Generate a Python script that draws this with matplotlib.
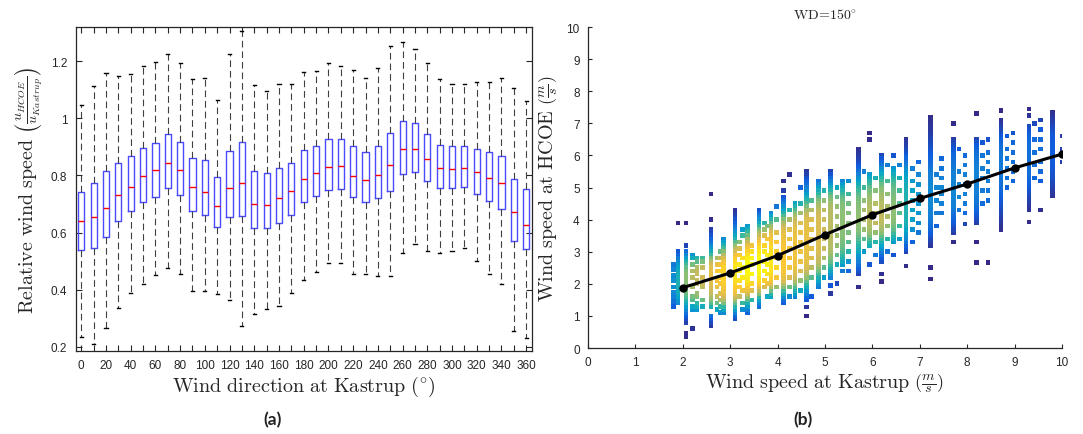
import numpy as np
import matplotlib
matplotlib.use('Agg')
import matplotlib.pyplot as plt
from matplotlib.colors import LinearSegmentedColormap

plt.rcParams['mathtext.fontset'] = 'cm'
plt.rcParams['font.family'] = ['Liberation Sans', 'DejaVu Sans']

# ---- (a) relative wind speed per wind direction (box statistics) ----
directions = [0, 10, 20, 30, 40, 50, 60, 70, 80, 90, 100, 110, 120, 130, 140, 150, 160, 170, 180,
              190, 200, 210, 220, 230, 240, 250, 260, 270, 280, 290, 300, 310, 320, 330, 340, 350, 360]
whisk_hi = [1.047, 1.112, 1.158, 1.147, 1.154, 1.182, 1.196, 1.225, 1.192, 1.137, 1.140, 1.063, 1.225,
            1.305, 1.116, 1.095, 1.119, 1.119, 1.161, 1.165, 1.193, 1.182, 1.168, 1.140, 1.175, 1.253,
            1.267, 1.243, 1.193, 1.137, 1.119, 1.119, 1.126, 1.126, 1.140, 1.105, 1.060]
q3 = [0.741, 0.772, 0.815, 0.843, 0.867, 0.896, 0.915, 0.944, 0.918, 0.860, 0.853, 0.795, 0.886,
      0.916, 0.815, 0.808, 0.827, 0.845, 0.888, 0.902, 0.927, 0.927, 0.902, 0.881, 0.902, 0.948,
      0.989, 0.984, 0.944, 0.907, 0.902, 0.902, 0.892, 0.881, 0.867, 0.787, 0.754]
med = [0.639, 0.653, 0.685, 0.730, 0.758, 0.797, 0.819, 0.844, 0.819, 0.758, 0.741, 0.692, 0.755,
       0.772, 0.699, 0.695, 0.720, 0.744, 0.787, 0.808, 0.829, 0.832, 0.797, 0.783, 0.800, 0.836,
       0.892, 0.892, 0.857, 0.825, 0.822, 0.825, 0.811, 0.790, 0.772, 0.671, 0.625]
q1 = [0.540, 0.545, 0.586, 0.639, 0.674, 0.706, 0.725, 0.756, 0.732, 0.674, 0.663, 0.618, 0.653,
      0.657, 0.615, 0.615, 0.632, 0.660, 0.706, 0.727, 0.750, 0.751, 0.723, 0.706, 0.720, 0.744,
      0.804, 0.813, 0.779, 0.755, 0.755, 0.758, 0.734, 0.712, 0.681, 0.569, 0.541]
whisk_lo = [0.236, 0.212, 0.268, 0.338, 0.390, 0.422, 0.451, 0.475, 0.455, 0.395, 0.395, 0.384, 0.364,
            0.275, 0.317, 0.334, 0.345, 0.390, 0.436, 0.461, 0.492, 0.492, 0.455, 0.454, 0.447, 0.447,
            0.527, 0.559, 0.534, 0.527, 0.534, 0.545, 0.499, 0.457, 0.420, 0.255, 0.230]
dir_labels = [0, 20, 40, 60, 80, 100, 120, 140, 160, 180, 200, 220, 240, 260, 280, 300, 320, 340, 360]

# ---- (b) WD=150 deg scatter: solid runs of points in the Kastrup speed columns ----
run_x = [1.90, 2.07, 2.07, 2.59, 2.59, 2.86, 3.10, 3.36, 3.61, 3.86, 4.12, 4.37, 4.61, 4.86,
         5.11, 5.37, 5.70, 5.94, 6.19, 6.44, 6.71, 7.22, 7.71, 8.20, 8.71, 9.30, 9.80]
run_lo = [1.4, 0.8, 0.35, 1.3, 0.7, 1.1, 0.9, 1.1, 1.3, 1.6, 1.4, 1.6, 1.5, 1.9,
          2.2, 2.6, 2.3, 3.2, 2.7, 3.3, 3.0, 3.2, 3.6, 3.9, 3.7, 4.3, 4.75]
run_hi = [3.0, 3.0, 0.5, 3.7, 1.0, 3.4, 4.3, 3.8, 4.3, 4.2, 4.7, 4.5, 5.5, 5.2,
          5.5, 5.2, 6.2, 5.4, 6.0, 5.6, 6.5, 7.2, 6.5, 6.5, 7.1, 6.9, 7.35]

# scattered points between the columns and outliers
side_x = [1.80, 1.90, 2.07, 2.20, 2.30, 2.42, 2.59, 2.72, 2.80, 3.20, 3.26, 3.46, 3.72, 3.78,
          3.98, 4.12, 4.25, 4.48, 4.61, 4.72, 4.98, 5.11, 5.25, 5.37, 5.50, 5.70, 5.82, 5.94,
          6.07, 6.19, 6.32, 6.44, 6.57, 6.71, 6.84, 6.97, 7.22, 7.35, 7.46, 7.71, 7.83, 7.95,
          8.20, 8.32, 8.44, 8.71, 8.84, 8.97, 9.30, 9.42, 9.55, 10.0]
side_y = [
    [1.3, 1.45, 1.6, 1.75, 1.9, 2.1, 2.25, 2.45, 2.6],
    [3.9],
    [3.2, 3.9],
    [0.6, 1.2, 1.3, 1.5, 1.6, 1.9, 2.2, 2.4, 2.6, 2.8, 2.9],
    [1.2, 1.3, 1.4, 1.6, 1.7, 2.0, 2.1, 2.3, 2.4, 2.5, 2.7, 2.8],
    [1.3, 1.5, 1.9, 2.0, 2.2, 2.5, 2.7, 2.8],
    [4.0, 4.8],
    [1.2, 1.4, 1.6, 1.9, 2.1, 2.4, 2.6, 2.8],
    [1.1, 1.3, 1.5, 1.7, 2.0, 2.2, 2.4, 2.6, 2.8, 3.0],
    [1.6, 1.9, 2.1, 2.4, 2.6, 2.9, 3.1, 3.3],
    [1.2, 1.4, 1.8, 2.2, 2.5, 2.8, 3.5, 3.7],
    [1.5, 1.8, 2.0, 2.3, 2.6, 2.8, 3.0, 3.2],
    [1.9, 2.1, 2.4, 2.7, 3.0, 3.2, 3.5, 3.7, 3.9],
    [1.6, 2.0, 2.3, 2.6, 2.9, 3.4, 3.8],
    [1.9, 2.2, 2.5, 2.8, 3.0, 3.3, 3.6, 4.0, 4.4],
    [4.9, 5.2],
    [1.6, 1.9, 2.2, 2.5, 2.8, 3.1, 3.4, 3.7, 4.0, 4.3, 5.4],
    [1.8, 2.1, 2.4, 2.7, 3.0, 3.3, 3.6, 3.9, 4.2, 4.5, 5.0],
    [1.0, 1.28],
    [1.6, 2.2, 2.5, 2.8, 3.1, 3.4, 3.7, 4.0, 4.3, 4.6],
    [2.2, 2.5, 2.8, 3.1, 3.4, 3.7, 4.0, 4.3, 4.6, 4.9],
    [1.7, 1.95],
    [2.0, 2.6, 2.9, 3.2, 3.5, 3.8, 4.1, 4.4, 4.7, 5.0],
    [2.4],
    [2.4, 2.7, 3.0, 3.3, 3.6, 3.9, 4.2, 4.5, 4.8, 5.2],
    [1.9],
    [3.0, 3.4, 3.7, 4.0, 4.3, 4.6, 5.0, 5.5],
    [2.6, 6.5, 6.7],
    [2.9, 3.3, 3.6, 3.9, 4.2, 4.5, 4.9, 5.3],
    [2.07, 2.3],
    [3.0, 3.4, 3.8, 4.1, 4.4, 4.8, 5.2, 5.7],
    [2.9, 6.0],
    [3.4, 3.8, 4.2, 4.5, 4.9, 5.3, 5.7],
    [2.56],
    [3.3, 3.7, 4.0, 4.3, 4.6, 4.9, 5.2, 5.6],
    [3.6, 3.9, 4.2, 4.5, 4.8, 5.1, 5.4, 5.8],
    [2.15, 2.5],
    [3.8, 4.2, 4.6, 5.0, 5.4],
    [4.2, 4.5, 4.8, 5.0, 5.3, 5.6, 5.9],
    [3.3, 7.0],
    [4.3, 4.7, 5.1, 5.5, 6.2],
    [3.86, 4.2, 4.5, 4.8, 5.1, 5.4, 5.7, 6.0],
    [2.66, 3.3, 7.3],
    [4.5, 4.9, 5.3, 5.6, 6.0, 6.4],
    [2.67, 4.6, 4.9, 5.2, 5.5, 5.8, 6.1, 6.5],
    [7.4],
    [5.0, 5.3, 5.6, 5.9, 6.2, 6.6],
    [5.2, 5.5, 5.8, 6.1, 6.4, 6.7],
    [3.93, 7.25, 7.45],
    [5.3, 5.7, 6.1, 6.5, 7.0],
    [4.3, 5.2, 5.5, 5.8, 6.2, 6.5, 6.8, 7.1],
    [5.8, 6.2, 6.6],
]

# binned mean line
mean_x = [2, 3, 4, 5, 6, 7, 8, 9, 10]
mean_y = [1.88, 2.34, 2.88, 3.53, 4.15, 4.66, 5.11, 5.61, 6.04]

parula = LinearSegmentedColormap.from_list(
    'parula', ['#352a87', '#0f5cdd', '#1481d6', '#06a4ca', '#2eb7a4',
               '#87bf77', '#d1bb59', '#fec832', '#f9fb0e'])

fig = plt.figure(figsize=(10.83, 4.35), dpi=100)
ink = '#262626'

# ---------------- (a) ----------------
ax1 = fig.add_axes([0.0699, 0.1908, 0.4211, 0.7448])
stats = []
for i in range(len(directions)):
    stats.append(dict(med=med[i], q1=q1[i], q3=q3[i], whislo=whisk_lo[i],
                      whishi=whisk_hi[i], fliers=[]))
ax1.bxp(stats, positions=directions, widths=5, capwidths=2.5, showfliers=False,
        manage_ticks=False,
        boxprops=dict(color='#4a4aff', lw=1.0),
        medianprops=dict(color='#ff0000', lw=1.0),
        whiskerprops=dict(color='#404040', lw=0.8, ls=(0, (6, 3.5))),
        capprops=dict(color='black', lw=1.0))
ax1.set_xlim(-4.5, 364.5)
ax1.set_ylim(0.186, 1.319)
ax1.set_xticks(directions, minor=True)
ax1.set_xticks(dir_labels)
ax1.set_xticklabels([str(d) for d in dir_labels])
ax1.set_yticks([0.2, 0.4, 0.6, 0.8, 1.0, 1.2])
ax1.set_yticklabels(['0.2', '0.4', '0.6', '0.8', '1', '1.2'])
ax1.tick_params(which='both', direction='in', top=True, right=True, length=4, width=0.8,
                labelsize=8.5, colors=ink, pad=6)
for s in ax1.spines.values():
    s.set_color(ink)
    s.set_linewidth(0.9)
ax1.set_xlabel(r'$\mathrm{Wind\ direction\ at\ Kastrup\ }(^{\circ})$', fontsize=14.5,
               color=ink, labelpad=2)
ax1.set_ylabel(r'$\mathrm{Relative\ wind\ speed\ }\left(\frac{u_{HCOE}}{u_{Kastrup}}\right)$',
               fontsize=14.5, color=ink, labelpad=4)

# ---------------- (b) ----------------
ax2 = fig.add_axes([0.543, 0.1977, 0.4376, 0.7379])
px, py = [], []
for x, lo, hi in zip(run_x, run_lo, run_hi):
    ys = np.arange(lo, hi + 1e-6, 0.1)
    px.extend([x] * len(ys))
    py.extend(ys)
for x, ys in zip(side_x, side_y):
    px.extend([x] * len(ys))
    py.extend(ys)
px = np.array(px)
py = np.array(py)
dx = (px[:, None] - px[None, :]) / 0.3
dy = (py[:, None] - py[None, :]) / 0.35
dens = np.exp(-0.5 * (dx ** 2 + dy ** 2)).sum(axis=1)
dens = (dens - dens.min()) / (dens.max() - dens.min())
dens = dens ** 2.1
order = np.argsort(dens)
ax2.scatter(px[order], py[order], c=dens[order], cmap=parula, marker='s', s=11,
            linewidths=0, zorder=2)
ax2.plot(mean_x, mean_y, color='black', lw=2.2, marker='o', ms=5, zorder=3)
ax2.set_xlim(0, 10)
ax2.set_ylim(0, 10)
ax2.set_xticks(range(11))
ax2.set_yticks(range(11))
ax2.spines['top'].set_visible(False)
ax2.spines['right'].set_visible(False)
for s in ['left', 'bottom']:
    ax2.spines[s].set_color(ink)
    ax2.spines[s].set_linewidth(0.9)
ax2.tick_params(direction='in', length=3, width=0.8, labelsize=8.5, colors=ink, pad=6)
ax2.set_title(r'$\mathrm{WD}\!=\!\mathrm{150}^{\circ}$', fontsize=10, color=ink, pad=6)
ax2.set_xlabel(r'$\mathrm{Wind\ speed\ at\ Kastrup\ }\left(\frac{m}{s}\right)$', fontsize=14.5,
               color=ink, labelpad=2)
ax2.set_ylabel(r'$\mathrm{Wind\ speed\ at\ HCOE\ }\left(\frac{m}{s}\right)$', fontsize=14.5,
               color=ink, labelpad=5)

fig.text(0.252, 0.035, '(a)', fontsize=12.5, fontweight='bold', family=['Lato', 'DejaVu Sans'],
         ha='center', va='center', color='#222222')
fig.text(0.741, 0.035, '(b)', fontsize=12.5, fontweight='bold', family=['Lato', 'DejaVu Sans'],
         ha='center', va='center', color='#222222')

fig.savefig('out.png', dpi=100)
